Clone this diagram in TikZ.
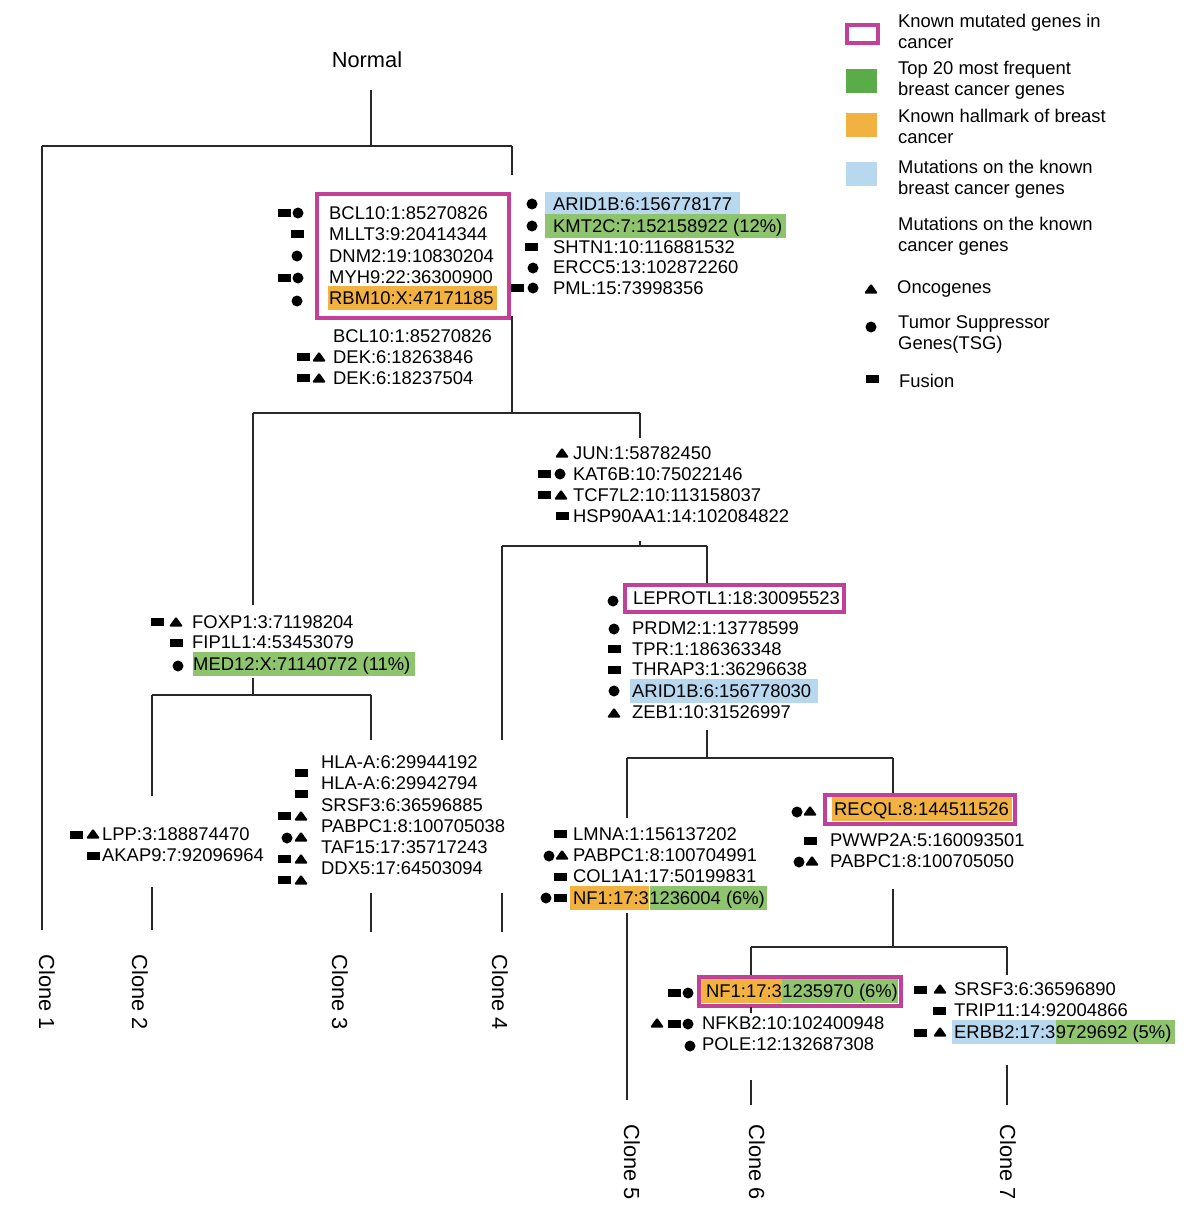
\documentclass[tikz,border=0pt]{standalone}
\usepackage{fontspec}
\setmainfont{Liberation Sans}
\usetikzlibrary{backgrounds}
\definecolor{mag}{RGB}{194,64,152}
\definecolor{orng}{RGB}{242,178,65}
\definecolor{hgrn}{RGB}{142,196,110}
\definecolor{lgrn}{RGB}{90,172,72}
\definecolor{lblue}{RGB}{184,216,240}
\definecolor{treec}{RGB}{40,40,40}
\begin{document}
\begin{tikzpicture}[x=1pt,y=-1pt,
 gt/.style={anchor=west,inner sep=0pt,text height=13.2pt,text depth=0pt,font=\fontsize{18.4}{22}\selectfont},
 bigt/.style={inner sep=0pt,text height=15.6pt,text depth=0pt,font=\fontsize{21.8}{26}\selectfont},
 tree/.style={draw=treec,line width=1.8pt},
 mbox/.style={draw=mag,line width=4pt,inner sep=0pt},
 fus/.pic={\fill (-6.5,-3.8) rectangle (6.5,3.8);},
 tsg/.pic={\fill (0,0) circle (5.5pt);},
 onc/.pic={\fill[rounded corners=1.3pt] (-7,4.5) -- (0,-5.5) -- (7,4.5) -- cycle;},
]
\useasboundingbox (0,0) rectangle (1200,1206);

% ---------- top labels ----------
\node[bigt] (nrm) at (367,60) {Normal};

% ---------- boxes ----------
\node[mbox,minimum width=192pt,minimum height=124pt] (box1) at (413,256) {};
\node[mbox,minimum width=219pt,minimum height=27pt] (box2) at (734.5,598.5) {};
\node[mbox,minimum width=190pt,minimum height=29pt] (box3) at (920,809.5) {};
\node[mbox,minimum width=202pt,minimum height=29pt] (box4) at (800,991.5) {};

% ---------- texts ----------
\node[gt] (g1) at (329,213) {BCL10:1:85270826};
\node[gt] (g2) at (329,234) {MLLT3:9:20414344};
\node[gt] (g3) at (329,256) {DNM2:19:10830204};
\node[gt] (g4) at (329,277) {MYH9:22:36300900};
\node[gt] (g5) at (329,298) {RBM10:X:47171185};
\node[gt] (g6) at (333,336) {BCL10:1:85270826};
\node[gt] (g7) at (333,357) {DEK:6:18263846};
\node[gt] (g8) at (333,378) {DEK:6:18237504};

\node[gt] (r1) at (553,204) {ARID1B:6:156778177};
\node[gt] (r2) at (553,226) {KMT2C:7:152158922 (12\%)};
\node[gt] (r3) at (553,247) {SHTN1:10:116881532};
\node[gt] (r4) at (553,267) {ERCC5:13:102872260};
\node[gt] (r5) at (553,288) {PML:15:73998356};

\node[gt] (j1) at (573,453) {JUN:1:58782450};
\node[gt] (j2) at (573,474) {KAT6B:10:75022146};
\node[gt] (j3) at (573,495) {TCF7L2:10:113158037};
\node[gt] (j4) at (573,516) {HSP90AA1:14:102084822};

\node[gt] (f1) at (192,622) {FOXP1:3:71198204};
\node[gt] (f2) at (192,642) {FIP1L1:4:53453079};
\node[gt] (f3) at (193,664) {MED12:X:71140772 (11\%)};

\node[gt] (l0) at (633,598) {LEPROTL1:18:30095523};
\node[gt] (l1) at (632,628) {PRDM2:1:13778599};
\node[gt] (l2) at (632,649) {TPR:1:186363348};
\node[gt] (l3) at (632,669) {THRAP3:1:36296638};
\node[gt] (l4) at (632,691) {ARID1B:6:156778030};
\node[gt] (l5) at (632,712) {ZEB1:10:31526997};

\node[gt] (p1) at (102,834) {LPP:3:188874470};
\node[gt] (p2) at (102,855) {AKAP9:7:92096964};

\node[gt] (h1) at (321,762) {HLA-A:6:29944192};
\node[gt] (h2) at (321,783) {HLA-A:6:29942794};
\node[gt] (h3) at (321,805) {SRSF3:6:36596885};
\node[gt] (h4) at (321,826) {PABPC1:8:100705038};
\node[gt] (h5) at (321,847) {TAF15:17:35717243};
\node[gt] (h6) at (321,868) {DDX5:17:64503094};

\node[gt] (m1) at (573,834) {LMNA:1:156137202};
\node[gt] (m2) at (573,855) {PABPC1:8:100704991};
\node[gt] (m3) at (573,876) {COL1A1:17:50199831};
\node[gt] (m4a) at (573,898) {NF1:17:3};
\node[gt] (m4b) at (m4a.east) {1236004 (6\%)};

\node[gt] (q1) at (834,809) {RECQL:8:144511526};
\node[gt] (q2) at (830,840) {PWWP2A:5:160093501};
\node[gt] (q3) at (830,861) {PABPC1:8:100705050};

\node[gt] (n1a) at (706,991) {NF1:17:3};
\node[gt] (n1b) at (n1a.east) {1235970 (6\%)};
\node[gt] (n2) at (702,1023) {NFKB2:10:102400948};
\node[gt] (n3) at (702,1044) {POLE:12:132687308};

\node[gt] (s1) at (954,989) {SRSF3:6:36596890};
\node[gt] (s2) at (954,1010) {TRIP11:14:92004866};
\node[gt] (s3a) at (954,1032) {ERBB2:17:3};
\node[gt] (s3b) at (s3a.east) {9729692 (5\%)};

% ---------- highlights ----------
\begin{scope}[on background layer]
\fill[white] (0,0) rectangle (1200,1206);
\fill[orng] ([shift={(-1,-5)}]g5.north west) rectangle ([shift={(3,5)}]g5.south east);
\fill[lblue] ([shift={(-8,-5)}]r1.north west) rectangle ([shift={(8,5)}]r1.south east);
\fill[hgrn] ([shift={(-8,-5)}]r2.north west) rectangle ([shift={(3,5)}]r2.south east);
\fill[hgrn] ([shift={(0,-5)}]f3.north west) rectangle ([shift={(4,5)}]f3.south east);
\fill[lblue] ([shift={(-2,-5)}]l4.north west) rectangle ([shift={(7,5)}]l4.south east);
\fill[orng] ([shift={(-3,-5)}]m4a.north west) rectangle ([shift={(0,5)}]m4a.south east);
\fill[hgrn] ([shift={(1,-5)}]m4b.north west) rectangle ([shift={(2,5)}]m4b.south east);
\fill[orng] ([shift={(-2,-5)}]q1.north west) rectangle ([shift={(3,5)}]q1.south east);
\fill[orng] ([shift={(-5,-5)}]n1a.north west) rectangle ([shift={(0,5)}]n1a.south east);
\fill[hgrn] ([shift={(0,-5)}]n1b.north west) rectangle ([shift={(0,5)}]n1b.south east);
\fill[lblue] ([shift={(-2,-5)}]s3a.north west) rectangle ([shift={(0,5)}]s3a.south east);
\fill[hgrn] ([shift={(0,-5)}]s3b.north west) rectangle ([shift={(3,5)}]s3b.south east);
\end{scope}

% ---------- symbols ----------
\pic at (284,213) {fus}; \pic at (298,213) {tsg};
\pic at (297,234) {fus};
\pic at (297,256) {tsg};
\pic at (284,278) {fus}; \pic at (298,278) {tsg};
\pic at (297,301) {tsg};
\pic at (303,357) {fus}; \pic at (319,357) {onc};
\pic at (303,378) {fus}; \pic at (319,378) {onc};

\pic at (532,204) {tsg};
\pic at (532,226) {tsg};
\pic at (531,247) {fus};
\pic at (533,268) {tsg};
\pic at (517,288) {fus}; \pic at (533,288) {tsg};

\pic at (562,453) {onc};
\pic at (544,474) {fus}; \pic at (560,474) {tsg};
\pic at (544,495) {fus}; \pic at (561,495) {onc};
\pic at (562,516) {fus};

\pic at (157,622) {fus}; \pic at (176,622) {onc};
\pic at (176,643) {fus};
\pic at (178,666) {tsg};

\pic at (613,601) {tsg};
\pic at (614,629) {tsg};
\pic at (614,649) {fus};
\pic at (614,670) {fus};
\pic at (614,691) {tsg};
\pic at (614,713) {onc};

\pic at (76,835) {fus}; \pic at (93,834) {onc};
\pic at (93,856) {fus};

\pic at (301,773) {fus};
\pic at (301,794) {fus};
\pic at (284,816) {fus}; \pic at (301,816) {onc};
\pic at (287,838) {tsg}; \pic at (301,837) {onc};
\pic at (284,859) {fus}; \pic at (301,859) {onc};
\pic at (284,880) {fus}; \pic at (301,880) {onc};

\pic at (560,834) {fus};
\pic at (549,856) {tsg}; \pic at (562,855) {onc};
\pic at (560,877) {fus};
\pic at (546,898) {tsg}; \pic at (560,898) {fus};

\pic at (797,812) {tsg}; \pic at (810,811) {onc};
\pic at (810,841) {fus};
\pic at (799,862) {tsg}; \pic at (812,861) {onc};

\pic at (674,993) {fus}; \pic at (688,993) {tsg};
\pic at (657,1023) {onc}; \pic at (674,1024) {fus}; \pic at (688,1024) {tsg};
\pic at (690,1046) {tsg};

\pic at (920,990) {fus}; \pic at (940,989) {onc};
\pic at (939,1011) {fus};
\pic at (920,1033) {fus}; \pic at (940,1032) {onc};

% ---------- tree ----------
\coordinate (t0) at (371,90);
\coordinate (t1) at (371,146);
\coordinate (tL) at (42,146);
\coordinate (tR) at (512,146);
\coordinate (tRb) at (512,175);
\coordinate (c1e) at (42,930);
\draw[tree] (t0) -- (t1);
\draw[tree] (tL) -- (tR);
\draw[tree] (tL) -- (c1e);
\draw[tree] (tR) -- (tRb);

\coordinate (b1s) at (512,316);
\coordinate (h2m) at (512,413);
\coordinate (h2L) at (253,413);
\coordinate (h2R) at (640,413);
\draw[tree] (b1s) -- (h2m);
\draw[tree] (h2L) -- (h2R);

\coordinate (fa) at (253,605);
\coordinate (fb) at (253,678);
\coordinate (h3m) at (253,695);
\coordinate (h3L) at (152,695);
\coordinate (h3R) at (371,695);
\draw[tree] (h2L) -- (fa);
\draw[tree] (fb) -- (h3m);
\draw[tree] (h3L) -- (h3R);
\coordinate (c2a) at (152,796);
\coordinate (c2b) at (152,887);
\coordinate (c2e) at (152,930);
\draw[tree] (h3L) -- (c2a);
\draw[tree] (c2b) -- (c2e);
\coordinate (c3a) at (371,740);
\coordinate (c3b) at (371,893);
\coordinate (c3e) at (371,932);
\draw[tree] (h3R) -- (c3a);
\draw[tree] (c3b) -- (c3e);

\coordinate (ja) at (640,438);
\draw[tree] (h2R) -- (ja);
\coordinate (jt) at (640,541);
\coordinate (h4m) at (640,546);
\coordinate (h4L) at (502,546);
\coordinate (h4R) at (707,546);
\draw[tree] (jt) -- (h4m);
\draw[tree] (h4L) -- (h4R);
\coordinate (c4a) at (502,740);
\coordinate (c4b) at (502,893);
\coordinate (c4e) at (502,932);
\draw[tree] (h4L) -- (c4a);
\draw[tree] (c4b) -- (c4e);
\draw[tree] (h4R) -- (h4R |- box2.north);

\coordinate (la) at (707,730);
\coordinate (h5m) at (707,758);
\coordinate (h5L) at (627,758);
\coordinate (h5R) at (893,758);
\draw[tree] (la) -- (h5m);
\draw[tree] (h5L) -- (h5R);
\coordinate (c5a) at (627,818);
\coordinate (c5b) at (627,913);
\coordinate (c5e) at (627,1100);
\draw[tree] (h5L) -- (c5a);
\draw[tree] (c5b) -- (c5e);
\draw[tree] (h5R) -- (h5R |- box3.north);

\coordinate (qa) at (893,889);
\coordinate (h6m) at (893,947);
\coordinate (h6L) at (751,947);
\coordinate (h6R) at (1007,947);
\draw[tree] (qa) -- (h6m);
\draw[tree] (h6L) -- (h6R);
\draw[tree] (h6L) -- (h6L |- box4.north);
\coordinate (s6t) at (751,1007);
\coordinate (s6u) at (751,1013);
\draw[tree] (s6t) -- (s6u);
\coordinate (c6a) at (751,1080);
\coordinate (c6e) at (751,1105);
\draw[tree] (c6a) -- (c6e);
\coordinate (s7a) at (1007,975);
\draw[tree] (h6R) -- (s7a);
\coordinate (c7a) at (1007,1065);
\coordinate (c7e) at (1007,1105);
\draw[tree] (c7a) -- (c7e);

% ---------- clone labels ----------
\node[bigt,rotate=-90] (cl1) at (47,992) {Clone 1};
\node[bigt,rotate=-90] (cl2) at (140,992) {Clone 2};
\node[bigt,rotate=-90] (cl3) at (340,992) {Clone 3};
\node[bigt,rotate=-90] (cl4) at (500,992) {Clone 4};
\node[bigt,rotate=-90] (cl5) at (632,1162) {Clone 5};
\node[bigt,rotate=-90] (cl6) at (757,1162) {Clone 6};
\node[bigt,rotate=-90] (cl7) at (1008,1162) {Clone 7};

% ---------- legend ----------
\node[draw=mag,line width=3.5pt,minimum width=31pt,minimum height=18pt,inner sep=0pt] (lg1) at (862.5,34) {};
\fill[lgrn] (846,69) rectangle (877,93);
\fill[orng] (846,113) rectangle (877,137);
\fill[lblue] (846,162) rectangle (877,186);
\pic at (871,289) {onc};
\pic at (871,327) {tsg};
\pic at (872,379) {fus};
\node[gt] (lt1a) at (898,21) {Known mutated genes in};
\node[gt] (lt1b) at (898,42) {cancer};
\node[gt] (lt2a) at (898,68) {Top 20 most frequent};
\node[gt] (lt2b) at (898,89) {breast cancer genes};
\node[gt] (lt3a) at (898,116) {Known hallmark of breast};
\node[gt] (lt3b) at (898,137) {cancer};
\node[gt] (lt4a) at (898,167) {Mutations on the known};
\node[gt] (lt4b) at (898,188) {breast cancer genes};
\node[gt] (lt5a) at (898,224) {Mutations on the known};
\node[gt] (lt5b) at (898,245) {cancer genes};
\node[gt] (lt6) at (897,287) {Oncogenes};
\node[gt] (lt7a) at (898,322) {Tumor Suppressor};
\node[gt] (lt7b) at (898,343) {Genes(TSG)};
\node[gt] (lt8) at (899,381) {Fusion};
\end{tikzpicture}
\end{document}
